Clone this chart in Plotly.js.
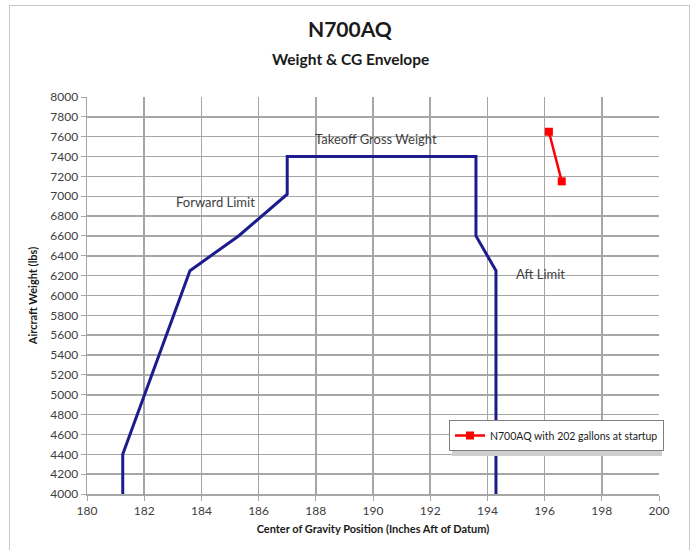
<!DOCTYPE html>
<html>
<head>
<meta charset="utf-8">
<script src="https://cdn.plot.ly/plotly-3.0.1.min.js"></script>
<style>
  html, body { margin: 0; padding: 0; background: #fff; }
  #wrap { position: relative; width: 690px; height: 550px; }
  #chart { width: 690px; height: 550px; }
  #frame { position: absolute; left: 9px; top: 5px; width: 679px; height: 560px;
           border: 1px solid #c8c8c8; pointer-events: none; }
</style>
</head>
<body>
<div id="wrap">
  <div id="chart"></div>
  <div id="frame"></div>
</div>
<script>
// Envelope (CG inches, weight lbs)
const envelopeCG     = [181.25, 181.25, 183.6, 185.3, 187.0, 187.0, 193.6, 193.6, 194.3, 194.3];
const envelopeWeight = [4000,   4400,   6250,  6600,  7020,  7400,  7400,  6600,  6250,  4000];

// Loading condition
const loadName   = "N700AQ with 202 gallons at startup";
const loadCG     = [196.15, 196.6];
const loadWeight = [7650, 7150];

// Labels
const labelText = ["Takeoff Gross Weight", "Forward Limit", "Aft Limit"];
const labelCG   = [190.1, 184.5, 195.85];
const labelWt   = [7575, 6940, 6215];

const font = "Lato, 'Open Sans', sans-serif";

const traces = [
  {
    x: envelopeCG, y: envelopeWeight, mode: "lines", type: "scatter",
    line: { color: "#1c1c8e", width: 3 }, showlegend: false, hoverinfo: "x+y"
  },
  {
    x: loadCG, y: loadWeight, mode: "lines+markers", type: "scatter", name: loadName,
    line: { color: "#ff0000", width: 2.5 },
    marker: { symbol: "square", size: 8, color: "#ff0000" }
  }
];

const annotations = labelText.map((t, i) => ({
  x: labelCG[i], y: labelWt[i], xref: "x", yref: "y", text: t, showarrow: false,
  font: { family: font, size: 13, color: "#404040" }
}));
const titleX = (350 - 87) / 572;
annotations.push(
  { xref: "paper", yref: "paper", x: titleX, y: (494 - 28) / 397, xanchor: "center", yanchor: "middle",
    text: "<b>N700AQ</b>", showarrow: false, font: { family: font, size: 21, color: "#1a1a1a" } },
  { xref: "paper", yref: "paper", x: titleX, y: (494 - 59) / 397, xanchor: "center", yanchor: "middle",
    text: "<b>Weight & CG Envelope</b>", showarrow: false, font: { family: font, size: 15.5, color: "#1a1a1a" } }
);

const layout = {
  width: 690, height: 550,
  margin: { l: 87, r: 31, t: 97, b: 56 },
  paper_bgcolor: "#ffffff", plot_bgcolor: "#ffffff",
  font: { family: font, color: "#404040" },
  xaxis: {
    range: [180, 200], dtick: 2, tick0: 180,
    showgrid: true, gridcolor: "#a6a6a6", gridwidth: 1.5,
    showline: true, linecolor: "#a6a6a6", linewidth: 1.5, zeroline: false,
    ticks: "outside", ticklen: 5, tickcolor: "#a6a6a6",
    tickfont: { family: font, size: 12, color: "#404040" },
    title: { text: "<b>Center of Gravity Position (Inches Aft of Datum)</b>",
             font: { family: font, size: 11, color: "#1a1a1a" }, standoff: 8 }
  },
  yaxis: {
    range: [4000, 8000], dtick: 200, tick0: 4000,
    showgrid: true, gridcolor: "#a6a6a6", gridwidth: 1.5,
    showline: true, linecolor: "#a6a6a6", linewidth: 1.5, zeroline: false,
    ticks: "outside", ticklen: 5, tickcolor: "#a6a6a6",
    tickfont: { family: font, size: 12, color: "#404040" },
    title: { text: "<b>Aircraft Weight (lbs)</b>",
             font: { family: font, size: 11, color: "#1a1a1a" }, standoff: 10 }
  },
  showlegend: true,
  legend: {
    x: (449 - 87) / 572, y: (494 - 420) / 397, xanchor: "left", yanchor: "top",
    bgcolor: "#ffffff", bordercolor: "#7f7f7f", borderwidth: 1,
    font: { family: font, size: 10.5, color: "#1a1a1a" },
    itemwidth: 30
  },
  shapes: [
    { type: "rect", xref: "paper", yref: "paper",
      x0: (452 - 87) / 572, x1: (662 - 87) / 572,
      y0: (494 - 456) / 397, y1: (494 - 423) / 397,
      fillcolor: "#cfcfcf", line: { width: 0 }, layer: "above" }
  ],
  annotations: annotations
};

Plotly.newPlot("chart", traces, layout, { displayModeBar: false, staticPlot: true });
</script>
</body>
</html>
